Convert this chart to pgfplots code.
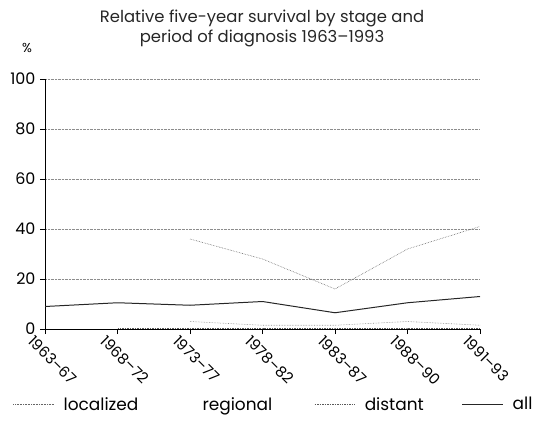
\documentclass[border=0pt]{standalone}
\usepackage{fontspec}
\setmainfont{Poppins}
\usepackage{pgfplots}
\pgfplotsset{compat=1.18}
\begin{document}
\begin{tikzpicture}[x=1bp,y=1bp]
\useasboundingbox (0,0) rectangle (555,423);
\node[font=\fontsize{16.5}{20}\selectfont\color{black!85}, align=center] at (262,395) {Relative five-year survival by stage and\\period of diagnosis 1963--1993};
\node[font=\fontsize{13}{14}\selectfont] at (27,375) {\%};
\begin{axis}[
  at={(45bp,94bp)}, anchor=south west,
  scale only axis, width=435bp, height=250bp,
  xmin=0, xmax=6, ymin=0, ymax=100,
  xtick={0,...,6},
  xticklabels={1963--67,1968--72,1973--77,1978--82,1983--87,1988--90,1991--93},
  xticklabel style={rotate=-45, anchor=north west, font=\fontsize{15}{16}\selectfont, xshift=-10bp, yshift=-4bp},
  ytick={0,20,...,100},
  yticklabel style={font=\fontsize{16}{16}\selectfont, xshift=-1bp},
  /pgf/number format/assume math mode=true,
  axis x line*=bottom, axis y line*=left,
  axis line style={black, line width=0.6pt},
  tick style={black, line width=0.6pt},
  tick align=outside, major tick length=5bp,
  ymajorgrids, grid style={black!45, densely dotted, line width=0.5pt},
  legend columns=4,
  legend style={draw=none, at={(-35bp,-64bp)}, anchor=north west,
    font=\fontsize{17}{18}\selectfont,
    /tikz/column 1/.style={column sep=7bp},
    /tikz/column 2/.style={column sep=12bp},
    /tikz/column 3/.style={column sep=7bp},
    /tikz/column 4/.style={column sep=40bp},
    /tikz/column 5/.style={column sep=7bp},
    /tikz/column 6/.style={column sep=36bp},
    /tikz/column 7/.style={column sep=7bp}},
  legend image post style={xscale=2.4},
]
\addplot[black!60, densely dotted, line width=0.6pt] coordinates {(2,36) (3,28) (4,16) (5,32) (6,41)};
\addlegendentry{localized}
\addplot[black!45, densely dotted, line width=0.6pt, forget plot] coordinates {(2,3) (3,1.5) (4,1.5) (5,3) (6,1.5)};
\addlegendimage{white}
\addlegendentry{regional}
\addplot[black!65, dash pattern=on 1.5pt off 1pt, line width=0.7pt] coordinates {(1,0.4) (2,0.4) (3,0.4) (4,0.4) (5,0.4) (6,0.4)};
\addlegendentry{distant}
\addplot[black!85, line width=1pt] coordinates {(0,9) (1,10.5) (2,9.5) (3,11) (4,6.5) (5,10.5) (6,13)};
\addlegendentry{all}
\end{axis}
\end{tikzpicture}
\end{document}
